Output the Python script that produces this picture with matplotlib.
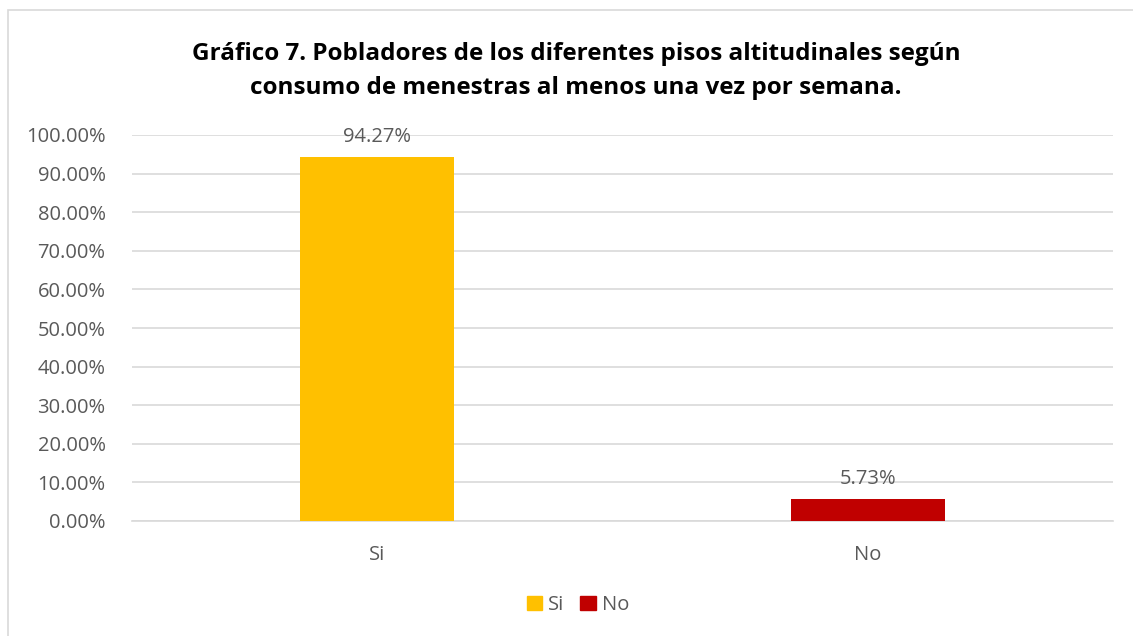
import matplotlib
matplotlib.use("Agg")
import matplotlib.pyplot as plt
from matplotlib.patches import Rectangle, Patch
from matplotlib.ticker import FuncFormatter, MultipleLocator

categories = ["Si", "No"]
values = [94.27, 5.73]
colors = ["#FFC000", "#C00000"]
title = "Gráfico 7. Pobladores de los diferentes pisos altitudinales según\nconsumo de menestras al menos una vez por semana."

W, H = 1133, 636
fig = plt.figure(figsize=(W/100, H/100), dpi=100)
fig.patch.set_facecolor("white")
plt.rcParams['font.family'] = ['Open Sans', 'DejaVu Sans']

# chart frame
fig.patches.append(Rectangle((8/W, -0.05), 1.2, (1 - 10/H) + 0.05, transform=fig.transFigure,
                             fill=False, edgecolor="#D9D9D9", linewidth=1.2))

FS = 14.5
ax = fig.add_axes([132/W, 1 - 521/H, (1113-132)/W, (521-135)/H])
x = range(len(categories))
bars = ax.bar(x, values, width=0.314, color=colors, zorder=3)
ax.set_xlim(-0.5, 1.5)
ax.set_ylim(0, 100)
ax.yaxis.set_major_locator(MultipleLocator(10))
ax.yaxis.set_major_formatter(FuncFormatter(lambda v, p: f"{v:.2f}%"))
ax.set_xticks(list(x))
ax.set_xticklabels(categories)
ax.grid(axis="y", color="#D9D9D9", linewidth=1.2, zorder=0)
for s in ax.spines.values():
    s.set_visible(False)
ax.spines["bottom"].set_visible(True)
ax.spines["bottom"].set_color("#D9D9D9")
ax.spines["bottom"].set_linewidth(1.2)
ax.tick_params(axis="both", length=0, colors="#595959", labelsize=FS)
ax.tick_params(axis="y", pad=19)
ax.tick_params(axis="x", pad=17)

for xi, v in zip(x, values):
    ax.annotate(f"{v:.2f}%", (xi, v), xytext=(0, 7), textcoords="offset points",
                ha="center", va="bottom", fontsize=FS, color="#595959")

fig.text(576/W, 1 - 71/H, title, ha="center", va="center", fontsize=17.5, fontweight="bold",
         color="black", linespacing=1.6)

handles = [Patch(facecolor=c, edgecolor=c) for c in colors]
fig.legend(handles, categories, loc="center", bbox_to_anchor=(578/W, 1 - 605/H), ncol=2,
           frameon=False, fontsize=FS, labelcolor="#595959", handlelength=0.75, handleheight=0.75,
           handletextpad=0.3, columnspacing=0.8)

fig.savefig("out.png", dpi=100)
